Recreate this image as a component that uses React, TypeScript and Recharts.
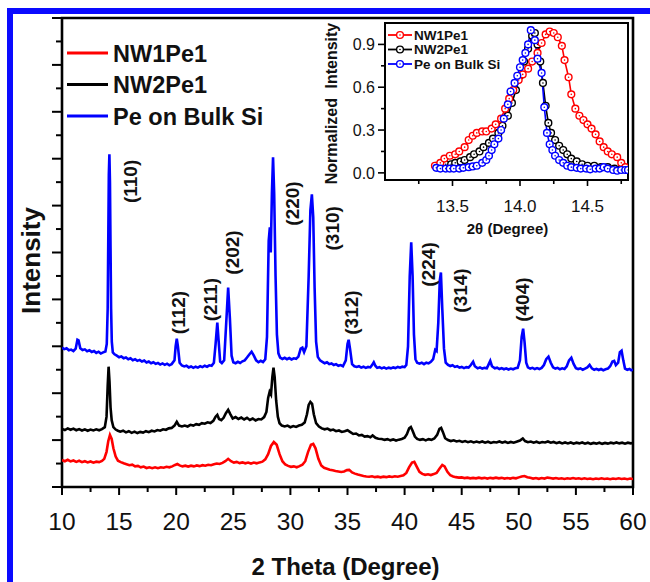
import React from 'react';
import { LineChart, Line, XAxis, YAxis, ReferenceArea, ReferenceDot, Legend } from 'recharts';

const FONT = '"Liberation Sans", Arial, Helvetica, sans-serif';

// series order: red, black, blue
const seriesNames = ['NW1Pe1', 'NW2Pe1', 'Pe on Bulk Si'];
const seriesColors = ['#ff0000', '#000000', '#0000ff'];

// main XRD patterns: [2theta, intensity (a.u., stacked)]
const nw1Pattern: [number, number][] = [
  [10.0,115],[10.25,110],[10.5,116],[10.75,109],[11.0,113],[11.25,107],[11.5,112],[11.75,106],[12.0,110],[12.25,105],
  [12.5,109],[12.75,104],[13.0,108],[13.25,106],[13.5,111],[13.7,120],[13.9,150],[14.05,195],[14.2,222],[14.35,205],
  [14.5,165],[14.7,130],[14.9,112],[15.15,106],[15.4,101],[15.65,97],[15.9,93],[16.15,95],[16.4,88],[16.65,90],
  [16.9,84],[17.15,87],[17.4,81],[17.65,84],[17.9,80],[18.15,84],[18.4,80],[18.65,84],[18.9,82],[19.15,86],
  [19.4,84],[19.65,88],[19.9,94],[20.1,98],[20.3,92],[20.55,88],[20.8,91],[21.05,87],[21.3,91],[21.55,88],
  [21.8,92],[22.05,89],[22.3,93],[22.55,91],[22.8,95],[23.05,93],[23.3,97],[23.55,100],[23.8,98],[24.05,103],
  [24.3,110],[24.55,120],[24.8,110],[25.05,104],[25.3,107],[25.55,102],[25.8,105],[26.05,101],[26.3,104],[26.55,100],
  [26.8,104],[27.05,101],[27.3,105],[27.55,108],[27.8,118],[28.05,140],[28.3,175],[28.55,192],[28.8,180],[29.05,140],
  [29.3,110],[29.55,96],[29.8,90],[30.05,86],[30.3,88],[30.55,84],[30.8,89],[31.05,95],[31.3,110],[31.55,150],
  [31.8,180],[32.0,184],[32.2,165],[32.45,120],[32.7,92],[32.95,82],[33.2,78],[33.45,74],[33.7,71],[33.95,68],
  [34.2,66],[34.45,64],[34.7,66],[34.95,72],[35.15,73],[35.4,62],[35.65,57],[35.9,53],[36.15,50],[36.4,47],
  [36.65,45],[36.9,44],[37.15,46],[37.4,42],[37.65,44],[37.9,41],[38.15,44],[38.4,42],[38.65,45],[38.9,43],
  [39.15,46],[39.4,44],[39.65,47],[39.9,50],[40.15,60],[40.4,85],[40.65,104],[40.85,107],[41.05,88],[41.3,65],
  [41.55,56],[41.8,52],[42.05,54],[42.3,51],[42.55,55],[42.8,60],[43.05,78],[43.3,94],[43.5,88],[43.75,65],
  [44.0,50],[44.25,45],[44.5,42],[44.75,40],[45.0,41],[45.25,38],[45.5,40],[45.75,37],[46.0,39],[46.25,37],
  [46.5,40],[46.75,37],[47.0,39],[47.25,36],[47.5,39],[47.75,37],[48.0,40],[48.25,37],[48.5,39],[48.75,36],
  [49.0,38],[49.25,36],[49.5,39],[49.75,37],[50.0,41],[50.25,45],[50.5,47],[50.75,42],[51.0,39],[51.25,36],
  [51.5,38],[51.75,35],[52.0,38],[52.25,36],[52.5,40],[52.75,38],[53.0,36],[53.25,38],[53.5,35],[53.75,37],
  [54.0,34],[54.25,37],[54.5,35],[54.75,38],[55.0,35],[55.25,37],[55.5,34],[55.75,37],[56.0,34],[56.25,36],
  [56.5,33],[56.75,36],[57.0,34],[57.25,37],[57.5,34],[57.75,36],[58.0,33],[58.25,36],[58.5,34],[58.75,37],
  [59.0,34],[59.25,36],[59.5,33],[59.75,36],[60.0,34],
];

const nw2Pattern: [number, number][] = [
  [10.0,248],[10.25,243],[10.5,250],[10.75,244],[11.0,249],[11.25,242],[11.5,247],[11.75,241],[12.0,246],[12.25,240],
  [12.5,245],[12.75,241],[13.0,246],[13.25,242],[13.5,247],[13.75,255],[13.9,300],[14.0,430],[14.08,513],[14.16,450],
  [14.25,340],[14.35,285],[14.5,255],[14.7,245],[14.9,240],[15.1,236],[15.35,240],[15.6,233],[15.85,238],[16.1,231],
  [16.35,236],[16.6,230],[16.85,235],[17.1,232],[17.35,238],[17.6,234],[17.85,240],[18.1,237],[18.35,243],[18.6,240],
  [18.85,246],[19.1,244],[19.35,250],[19.6,252],[19.85,262],[20.05,278],[20.25,262],[20.5,258],[20.75,262],[21.0,258],
  [21.25,265],[21.5,262],[21.75,268],[22.0,265],[22.25,272],[22.5,270],[22.75,276],[23.0,273],[23.25,282],[23.45,300],
  [23.6,308],[23.75,290],[23.95,285],[24.15,295],[24.35,315],[24.55,329],[24.75,310],[24.95,292],[25.2,298],[25.45,290],
  [25.7,296],[25.95,288],[26.2,295],[26.45,286],[26.7,292],[26.95,284],[27.2,290],[27.45,288],[27.7,298],[27.9,320],
  [28.05,380],[28.18,406],[28.3,395],[28.42,470],[28.52,509],[28.62,470],[28.75,370],[28.9,300],[29.05,272],[29.25,262],
  [29.5,258],[29.75,262],[30.0,255],[30.25,260],[30.5,256],[30.75,262],[31.0,265],[31.25,275],[31.45,310],[31.6,350],
  [31.75,363],[31.9,355],[32.05,310],[32.25,272],[32.5,258],[32.75,250],[33.0,246],[33.25,249],[33.5,242],[33.75,245],
  [34.0,238],[34.25,241],[34.5,235],[34.75,238],[35.0,242],[35.25,234],[35.5,226],[35.75,228],[36.0,220],[36.25,222],
  [36.5,215],[36.75,217],[37.0,212],[37.2,220],[37.45,210],[37.7,206],[38.0,205],[38.25,201],[38.5,204],[38.75,199],
  [39.0,203],[39.25,198],[39.5,202],[39.75,205],[40.0,210],[40.2,225],[40.4,250],[40.55,256],[40.7,240],[40.9,215],
  [41.1,205],[41.35,201],[41.6,204],[41.85,199],[42.1,204],[42.35,201],[42.6,207],[42.85,222],[43.05,248],[43.2,252],
  [43.35,235],[43.55,208],[43.8,200],[44.05,196],[44.3,199],[44.55,194],[44.8,197],[45.05,192],[45.3,196],[45.55,191],
  [45.8,195],[46.05,190],[46.3,194],[46.55,190],[46.8,194],[47.05,189],[47.3,193],[47.55,188],[47.8,192],[48.05,190],
  [48.3,194],[48.55,189],[48.8,193],[49.05,188],[49.3,192],[49.55,189],[49.8,193],[50.1,198],[50.35,207],[50.55,196],
  [50.8,191],[51.05,194],[51.3,189],[51.55,193],[51.8,188],[52.05,192],[52.3,190],[52.55,194],[52.8,189],[53.05,192],
  [53.3,187],[53.55,191],[53.8,186],[54.05,190],[54.3,186],[54.55,190],[54.8,185],[55.05,189],[55.3,186],[55.55,190],
  [55.8,185],[56.05,189],[56.3,184],[56.55,188],[56.8,185],[57.05,189],[57.3,184],[57.55,188],[57.8,185],[58.05,189],
  [58.3,186],[58.55,190],[58.8,186],[59.05,189],[59.3,185],[59.55,189],[59.8,186],[60.0,188],
];

const bulkPattern: [number, number][] = [
  [10.0,594],[10.2,588],[10.4,592],[10.6,583],[10.8,586],[11.0,580],[11.2,590],[11.35,628],[11.45,625],[11.6,592],
  [11.8,584],[12.0,587],[12.2,579],[12.4,583],[12.6,576],[12.8,580],[13.0,572],[13.2,577],[13.4,569],[13.6,574],
  [13.8,578],[13.92,610],[14.0,760],[14.06,1100],[14.1,1330],[14.15,1419],[14.2,1300],[14.25,1020],[14.3,760],[14.36,620],
  [14.45,574],[14.6,566],[14.8,560],[15.0,553],[15.2,557],[15.4,549],[15.6,552],[15.8,545],[16.0,549],[16.2,541],
  [16.4,545],[16.6,538],[16.8,542],[17.0,535],[17.2,539],[17.4,531],[17.6,535],[17.8,528],[18.0,532],[18.2,525],
  [18.4,529],[18.6,522],[18.8,527],[19.0,521],[19.2,526],[19.4,519],[19.6,524],[19.85,540],[19.95,600],[20.05,632],
  [20.15,600],[20.3,530],[20.5,518],[20.7,514],[20.9,517],[21.1,510],[21.3,514],[21.5,508],[21.7,513],[21.9,509],
  [22.1,515],[22.3,511],[22.5,517],[22.7,513],[22.9,519],[23.1,517],[23.3,530],[23.45,610],[23.6,701],[23.72,620],
  [23.85,535],[24.0,528],[24.2,540],[24.38,700],[24.55,850],[24.7,720],[24.85,560],[25.0,532],[25.2,528],[25.4,534],
  [25.6,529],[25.8,536],[26.0,540],[26.2,552],[26.4,565],[26.6,577],[26.8,560],[27.0,540],[27.2,532],[27.4,538],
  [27.6,533],[27.8,545],[27.95,640],[28.1,1050],[28.2,1107],[28.28,1000],[28.38,1250],[28.48,1406],[28.58,1250],[28.7,900],
  [28.82,650],[28.95,570],[29.1,552],[29.3,546],[29.5,551],[29.7,545],[29.9,550],[30.1,544],[30.3,549],[30.5,547],
  [30.7,556],[30.9,590],[31.05,594],[31.2,575],[31.4,600],[31.6,900],[31.75,1180],[31.88,1248],[32.0,1150],[32.12,850],
  [32.25,620],[32.4,555],[32.6,540],[32.8,534],[33.0,528],[33.2,532],[33.4,524],[33.6,527],[33.8,520],[34.0,524],
  [34.2,517],[34.4,520],[34.6,515],[34.85,540],[35.0,610],[35.1,628],[35.22,590],[35.4,524],[35.6,515],[35.8,512],
  [36.0,515],[36.2,509],[36.4,513],[36.6,508],[36.8,512],[37.0,510],[37.15,520],[37.3,532],[37.45,516],[37.6,508],
  [37.8,511],[38.0,506],[38.2,510],[38.4,505],[38.6,509],[38.8,506],[39.0,510],[39.2,507],[39.4,512],[39.6,509],
  [39.8,513],[40.0,511],[40.15,520],[40.3,600],[40.45,900],[40.58,1043],[40.7,900],[40.82,650],[40.95,545],[41.1,530],
  [41.3,526],[41.5,530],[41.7,524],[41.9,530],[42.1,527],[42.3,534],[42.5,545],[42.68,585],[42.8,580],[42.95,700],
  [43.08,880],[43.18,915],[43.3,760],[43.45,590],[43.6,530],[43.8,521],[44.0,516],[44.2,519],[44.4,512],[44.6,515],
  [44.8,509],[45.0,512],[45.2,507],[45.4,511],[45.6,509],[45.8,520],[46.0,534],[46.15,515],[46.4,506],[46.6,510],
  [46.8,505],[47.0,508],[47.2,506],[47.35,522],[47.5,538],[47.65,515],[47.9,506],[48.1,509],[48.3,503],[48.5,507],
  [48.7,502],[48.9,506],[49.1,501],[49.3,505],[49.5,502],[49.7,506],[49.9,508],[50.1,540],[50.25,640],[50.38,675],
  [50.5,620],[50.65,530],[50.8,510],[51.0,505],[51.2,508],[51.4,503],[51.6,507],[51.8,503],[52.0,508],[52.2,520],
  [52.4,545],[52.6,556],[52.8,530],[53.0,510],[53.2,505],[53.4,508],[53.6,502],[53.8,506],[54.0,503],[54.2,515],
  [54.4,540],[54.6,551],[54.8,525],[55.0,507],[55.2,503],[55.4,506],[55.6,500],[55.8,505],[56.0,510],[56.2,521],
  [56.4,506],[56.6,500],[56.8,504],[57.0,499],[57.2,503],[57.4,498],[57.6,502],[57.8,505],[58.0,515],[58.2,535],
  [58.35,538],[58.5,520],[58.7,530],[58.85,575],[59.0,581],[59.15,540],[59.3,505],[59.5,500],[59.7,503],[59.85,498],
  [60.0,500],
];

// Miller indices of the bulk reflections and where their tags sit [2theta, intensity]
const hklTags = ['(110)', '(112)', '(211)', '(202)', '(220)', '(310)', '(312)', '(224)', '(314)', '(404)'];
const hklTagTheta = [15.96, 20.18, 22.98, 24.91, 30.18, 33.68, 35.3, 42.02, 44.82, 50.26];
const hklTagHeight = [1303, 744, 799, 1000, 1209, 1103, 744, 949, 838, 799];

const mainXTicks = [10, 12.5, 15, 17.5, 20, 22.5, 25, 27.5, 30, 32.5, 35, 37.5, 40, 42.5, 45, 47.5, 50, 52.5, 55, 57.5, 60];
const mainYTicks = [0, 100, 200, 300, 400, 500, 600, 700, 800, 900, 1000, 1100, 1200, 1300, 1400, 1500, 1600, 1700, 1800, 1900, 2000];

// inset: normalised (110) reflection [2theta, normalised intensity]
const nw1Peak: [number, number][] = [
  [13.37,0.05],[13.41,0.07],[13.44,0.10],[13.48,0.12],[13.52,0.13],[13.55,0.15],[13.59,0.18],[13.62,0.23],[13.65,0.26],
  [13.68,0.28],[13.72,0.29],[13.75,0.29],[13.79,0.31],[13.82,0.34],[13.86,0.38],[13.89,0.45],[13.92,0.52],[13.95,0.58],
  [13.99,0.65],[14.02,0.69],[14.06,0.73],[14.09,0.78],[14.13,0.84],[14.16,0.91],[14.19,0.97],[14.22,0.99],[14.25,0.98],
  [14.28,0.95],[14.31,0.89],[14.33,0.79],[14.36,0.67],[14.38,0.55],[14.41,0.45],[14.44,0.40],[14.47,0.37],[14.5,0.34],
  [14.53,0.31],[14.56,0.27],[14.59,0.22],[14.62,0.18],[14.65,0.15],[14.68,0.13],[14.72,0.11],[14.75,0.07],[14.78,0.04],
];
const nw2Peak: [number, number][] = [
  [13.38,0.05],[13.42,0.05],[13.45,0.06],[13.49,0.06],[13.52,0.07],[13.56,0.08],[13.59,0.09],[13.63,0.11],[13.66,0.13],
  [13.7,0.15],[13.73,0.18],[13.77,0.21],[13.8,0.24],[13.84,0.28],[13.87,0.33],[13.91,0.40],[13.94,0.49],[13.97,0.58],
  [14.0,0.68],[14.03,0.78],[14.06,0.87],[14.09,0.96],[14.11,0.98],[14.13,0.90],[14.15,0.78],[14.17,0.63],[14.19,0.47],
  [14.21,0.35],[14.23,0.28],[14.26,0.23],[14.29,0.19],[14.32,0.16],[14.35,0.13],[14.38,0.10],[14.42,0.08],[14.46,0.06],
  [14.5,0.05],[14.55,0.05],[14.6,0.04],[14.65,0.04],[14.7,0.03],[14.75,0.03],
];
const bulkPeak: [number, number][] = [
  [13.38,0.035],[13.41,0.03],[13.45,0.03],[13.48,0.03],[13.51,0.03],[13.55,0.03],[13.58,0.035],[13.62,0.04],[13.65,0.045],
  [13.68,0.05],[13.72,0.07],[13.75,0.09],[13.77,0.12],[13.79,0.16],[13.81,0.20],[13.84,0.24],[13.86,0.30],[13.88,0.38],
  [13.91,0.48],[13.93,0.57],[13.96,0.63],[13.98,0.68],[14.0,0.74],[14.02,0.79],[14.04,0.84],[14.06,0.90],[14.08,1.0],
  [14.11,0.93],[14.13,0.80],[14.16,0.70],[14.18,0.46],[14.2,0.28],[14.22,0.20],[14.24,0.16],[14.26,0.12],[14.29,0.09],
  [14.32,0.07],[14.35,0.05],[14.38,0.04],[14.42,0.035],[14.45,0.03],[14.49,0.03],[14.52,0.025],[14.56,0.03],[14.59,0.03],
  [14.62,0.04],[14.65,0.03],[14.69,0.02],[14.72,0.015],[14.75,0.02],[14.78,0.02],[14.8,0.02],
];

const insetXTicks = [13.25, 13.5, 13.75, 14, 14.25, 14.5, 14.75];
const insetYTicks = [0, 0.15, 0.3, 0.45, 0.6, 0.75, 0.9];

const toRows = (pts: [number, number][]) => pts.map(([t, v]) => ({ t, v }));

const mainSeries = [nw1Pattern, nw2Pattern, bulkPattern].map(toRows);
const insetSeries = [nw1Peak, nw2Peak, bulkPeak].map(toRows);

function MainXTick({ x, y, payload }: any) {
  const major = payload.value % 5 === 0;
  return (
    <g>
      <line x1={x} x2={x} y1={y} y2={y + (major ? 8 : 5)} stroke="#000" strokeWidth={2} />
      {major && (
        <text x={x} y={y + 43} textAnchor="middle" fontSize={24.5} fontFamily={FONT} fill="#111">
          {payload.value}
        </text>
      )}
    </g>
  );
}

function MainYTick({ x, y, payload }: any) {
  const major = payload.value % 200 === 0;
  return <line x1={x - (major ? 10 : 6)} x2={x} y1={y} y2={y} stroke="#000" strokeWidth={2} />;
}

function InsetXTick({ x, y, payload }: any) {
  const major = Math.round(payload.value * 100) % 50 === 0;
  return (
    <g>
      <line x1={x} x2={x} y1={y} y2={y + (major ? 6 : 4)} stroke="#000" strokeWidth={1.6} />
      {major && (
        <text x={x} y={y + 32} textAnchor="middle" fontSize={17} fontFamily={FONT} fill="#111">
          {payload.value.toFixed(1)}
        </text>
      )}
    </g>
  );
}

function InsetYTick({ x, y, payload }: any) {
  const major = Math.round(payload.value * 100) % 30 === 0;
  return (
    <g>
      <line x1={x - (major ? 7 : 4)} x2={x} y1={y} y2={y} stroke="#000" strokeWidth={1.6} />
      {major && (
        <text x={x - 10} y={y + 6} textAnchor="end" fontSize={16} fontFamily={FONT} fill="#111">
          {payload.value.toFixed(1)}
        </text>
      )}
    </g>
  );
}

function PeakTag({ viewBox, hkl }: any) {
  const cx = viewBox.x + (viewBox.width || 0) / 2;
  const cy = viewBox.y + (viewBox.height || 0) / 2;
  return (
    <text
      transform={`translate(${cx},${cy}) rotate(-90)`}
      textAnchor="middle"
      dy={7}
      fontSize={19}
      fontWeight="bold"
      fontFamily={FONT}
      fill="#111"
    >
      {hkl}
    </text>
  );
}

function YTitle({ viewBox }: any) {
  const cx = viewBox.x + 31;
  const cy = viewBox.y + viewBox.height / 2 + 8;
  return (
    <text transform={`translate(${cx},${cy}) rotate(-90)`} textAnchor="middle" dy={9} fontSize={26} fontWeight="bold" fontFamily={FONT} fill="#111">
      Intensity
    </text>
  );
}

function XTitle({ viewBox }: any) {
  return (
    <text x={viewBox.x + viewBox.width / 2 - 2} y={575} textAnchor="middle" fontSize={24} fontWeight="bold" fontFamily={FONT} fill="#111">
      2 Theta (Degree)
    </text>
  );
}

function InsetYTitle({ viewBox }: any) {
  const cx = viewBox.x + viewBox.width - 53;
  const cy = viewBox.y + viewBox.height / 2 + 2;
  return (
    <text transform={`translate(${cx},${cy}) rotate(-90)`} textAnchor="middle" dy={5} fontSize={16} fontWeight="bold" fontFamily={FONT} fill="#111" style={{ wordSpacing: 5 }}>
      Normalized Intensity
    </text>
  );
}

function InsetXTitle({ viewBox }: any) {
  return (
    <text x={viewBox.x + viewBox.width / 2 + 1} y={viewBox.y + 54} textAnchor="middle" fontSize={15} fontWeight="bold" fontFamily={FONT} fill="#111">
      2θ (Degree)
    </text>
  );
}

function MainLegend() {
  return (
    <svg width={320} height={140}>
      {seriesNames.map((name, i) => {
        const y = 53 + i * 31.5;
        return (
          <g key={name}>
            <line x1={67} x2={108} y1={y} y2={y} stroke={seriesColors[i]} strokeWidth={3} />
            <text x={113} y={y + 8.5} fontSize={23.5} fontWeight="bold" fontFamily={FONT} fill="#111">
              {name}
            </text>
          </g>
        );
      })}
    </svg>
  );
}

function InsetLegend() {
  return (
    <svg width={520} height={80}>
      {seriesNames.map((name, i) => {
        const y = 35 + i * 14.5;
        return (
          <g key={name}>
            <line x1={388} x2={412} y1={y} y2={y} stroke={seriesColors[i]} strokeWidth={1.8} />
            <circle cx={400} cy={y} r={3.4} fill="#fff" stroke={seriesColors[i]} strokeWidth={1.4} />
            <circle cx={400} cy={y} r={0.8} fill={seriesColors[i]} />
            <text x={414} y={y + 4.5} fontSize={13.5} fontWeight="bold" fontFamily={FONT} fill="#111">
              {name}
            </text>
          </g>
        );
      })}
    </svg>
  );
}

function RingDot({ cx, cy, color }: any) {
  if (cx == null || cy == null) return null;
  return (
    <g>
      <circle cx={cx} cy={cy} r={3.4} fill="#fff" stroke={color} strokeWidth={1.4} />
      <circle cx={cx} cy={cy} r={0.8} fill={color} />
    </g>
  );
}

export default function App() {
  return (
    <div style={{ position: 'absolute', left: 0, top: 0, width: 650, height: 582, background: '#fff', overflow: 'hidden' }}>
      <div style={{ position: 'absolute', left: 7, top: 8, width: 6, height: 574, background: '#0a0aff' }} />
      <div style={{ position: 'absolute', left: 7, top: 8, width: 643, height: 6, background: '#0a0aff' }} />

      <div style={{ position: 'absolute', left: 0, top: 0 }}>
        <LineChart width={650} height={582} margin={{ top: 18, right: 17, bottom: 0, left: 0 }}>
          <XAxis
            dataKey="t"
            type="number"
            domain={[10, 60]}
            ticks={mainXTicks}
            interval={0}
            height={95}
            tickSize={0}
            tickMargin={0}
            axisLine={false}
            tickLine={false}
            tick={<MainXTick />}
            allowDataOverflow
            label={<XTitle />}
          />
          <YAxis
            type="number"
            domain={[0, 2000]}
            ticks={mainYTicks}
            interval={0}
            width={62}
            tickSize={0}
            tickMargin={0}
            axisLine={false}
            tickLine={false}
            tick={<MainYTick />}
            allowDataOverflow
            label={<YTitle />}
          />
          <ReferenceArea x1={10} x2={60} y1={0} y2={2000} fill="none" stroke="#000" strokeWidth={2.6} ifOverflow="visible" />
          {mainSeries.map((rows, i) => (
            <Line
              key={seriesNames[i]}
              data={rows}
              dataKey="v"
              type="linear"
              stroke={seriesColors[i]}
              strokeWidth={2.6}
              dot={false}
              activeDot={false}
              isAnimationActive={false}
            />
          ))}
          {hklTags.map((hkl, i) => (
            <ReferenceDot
              key={hkl}
              x={hklTagTheta[i]}
              y={hklTagHeight[i]}
              r={0}
              fill="none"
              stroke="none"
              ifOverflow="visible"
              label={<PeakTag hkl={hkl} />}
            />
          ))}
          <Legend
            layout="vertical"
            align="center"
            verticalAlign="middle"
            content={<MainLegend />}
            wrapperStyle={{ left: 0, top: 0, width: 320, height: 140 }}
          />
        </LineChart>
      </div>

      <div style={{ position: 'absolute', left: 0, top: 0 }}>
        <LineChart width={650} height={250} margin={{ top: 23, right: 22, bottom: 0, left: 0 }}>
          <ReferenceArea x1={13} x2={14.8} y1={-0.05} y2={1.05} fill="#fff" stroke="none" ifOverflow="visible" />
          <XAxis
            dataKey="t"
            type="number"
            domain={[13, 14.8]}
            ticks={insetXTicks}
            interval={0}
            height={70}
            tickSize={0}
            tickMargin={0}
            axisLine={false}
            tickLine={false}
            tick={<InsetXTick />}
            allowDataOverflow
            label={<InsetXTitle />}
          />
          <YAxis
            type="number"
            domain={[-0.05, 1.05]}
            ticks={insetYTicks}
            interval={0}
            width={385}
            tickSize={0}
            tickMargin={0}
            axisLine={false}
            tickLine={false}
            tick={<InsetYTick />}
            allowDataOverflow
            label={<InsetYTitle />}
          />
          {[1, 0, 2].map((i) => (
            <Line
              key={seriesNames[i]}
              data={insetSeries[i]}
              dataKey="v"
              type="linear"
              stroke={seriesColors[i]}
              strokeWidth={1.6}
              dot={<RingDot color={seriesColors[i]} />}
              activeDot={false}
              isAnimationActive={false}
            />
          ))}
          <ReferenceArea x1={13} x2={14.8} y1={-0.05} y2={1.05} fill="none" stroke="#000" strokeWidth={2} ifOverflow="visible" />
          <Legend
            layout="vertical"
            align="center"
            verticalAlign="middle"
            content={<InsetLegend />}
            wrapperStyle={{ left: 0, top: 0, width: 520, height: 80 }}
          />
        </LineChart>
      </div>
    </div>
  );
}
